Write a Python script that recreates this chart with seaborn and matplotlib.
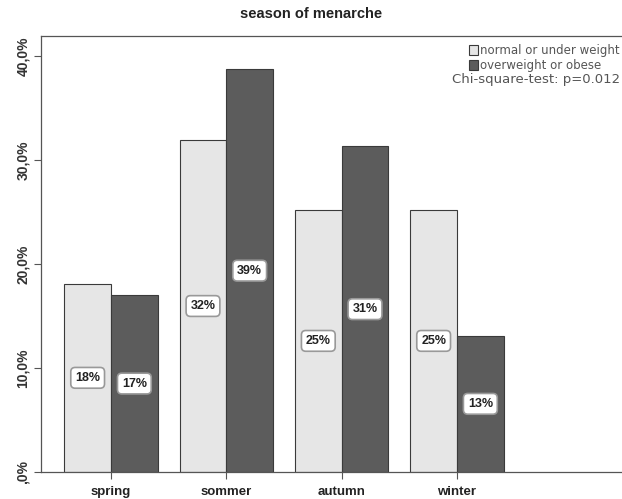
import pandas as pd
import matplotlib.pyplot as plt
import seaborn as sns
import numpy as np

# data
seasons = ['spring', 'sommer', 'autumn', 'winter']
groups = ['normal or under weight', 'overweight or obese']
normal_pct = [18.1, 31.9, 25.2, 25.2]
over_pct = [17.0, 38.7, 31.3, 13.1]
normal_lbl = ['18%', '32%', '25%', '25%']
over_lbl = ['17%', '39%', '31%', '13%']
yticks = [0, 10, 20, 30, 40]
ytick_labels = [',0%', '10,0%', '20,0%', '30,0%', '40,0%']

df = pd.DataFrame({
    'season': seasons * 2,
    'group': [groups[0]] * 4 + [groups[1]] * 4,
    'pct': normal_pct + over_pct,
})

sns.set_style('white')
plt.rcParams['font.family'] = ['Liberation Sans', 'DejaVu Sans']

fig = plt.figure(figsize=(6.22, 4.99), dpi=100)
# axes frame runs off the right edge, as in the reference
ax = fig.add_axes([41 / 622, 27 / 499, 1.0, 436 / 499])

sns.barplot(data=df, x='season', y='pct', hue='group', order=seasons,
            hue_order=groups, palette=['#e6e6e6', '#5c5c5c'], width=0.81,
            edgecolor='#3a3a3a', linewidth=0.8, ax=ax, legend=True)

# boxed labels in the middle of each bar
for cont, labels in zip(ax.containers, [normal_lbl, over_lbl]):
    ax.bar_label(cont, labels=labels, label_type='center', fontsize=9,
                 fontweight='bold', color='#222222',
                 bbox=dict(boxstyle='round,pad=0.35', fc='white',
                           ec='#999999', lw=1.2))

ax.set_xlim(-0.607, -0.607 + 622 / 115.33)
ax.set_ylim(0, 41.9)
ax.set_yticks(yticks)
ax.set_yticklabels(ytick_labels, rotation=90, va='center', fontsize=10,
                   fontweight='bold', color='#333333')
ax.tick_params(axis='y', length=5, width=0.8, color='#555555', left=True, pad=3)
ax.tick_params(axis='x', length=5, width=0.8, color='#555555', bottom=True,
               labelsize=9.5, labelcolor='#222222', pad=5)
for lab in ax.get_xticklabels():
    lab.set_fontweight('bold')
ax.set_xlabel('')
ax.set_ylabel('')
for side in ['left', 'top', 'bottom']:
    ax.spines[side].set_color('#555555')
    ax.spines[side].set_linewidth(0.9)
ax.spines['right'].set_visible(False)

fig.text(0.5, 1 - 14 / 499, 'season of menarche', ha='center', va='center',
         fontsize=10.5, fontweight='bold', color='#222222')

ax.legend(loc='upper right', bbox_to_anchor=(620 / 622, 1 - 44 / 499),
          bbox_transform=fig.transFigure, frameon=False,
          prop={'family': 'DejaVu Sans', 'size': 8.5},
          handlelength=0.8, handleheight=0.9, handletextpad=0.2,
          labelspacing=0.15, borderaxespad=0, borderpad=0)
for t in ax.get_legend().get_texts():
    t.set_color('#555555')

fig.text(620 / 622, 1 - 80 / 499, 'Chi-square-test: p=0.012', ha='right',
         va='center', fontsize=9.5, family='DejaVu Sans', color='#555555')

plt.savefig('out.png', dpi=100)
plt.close()
